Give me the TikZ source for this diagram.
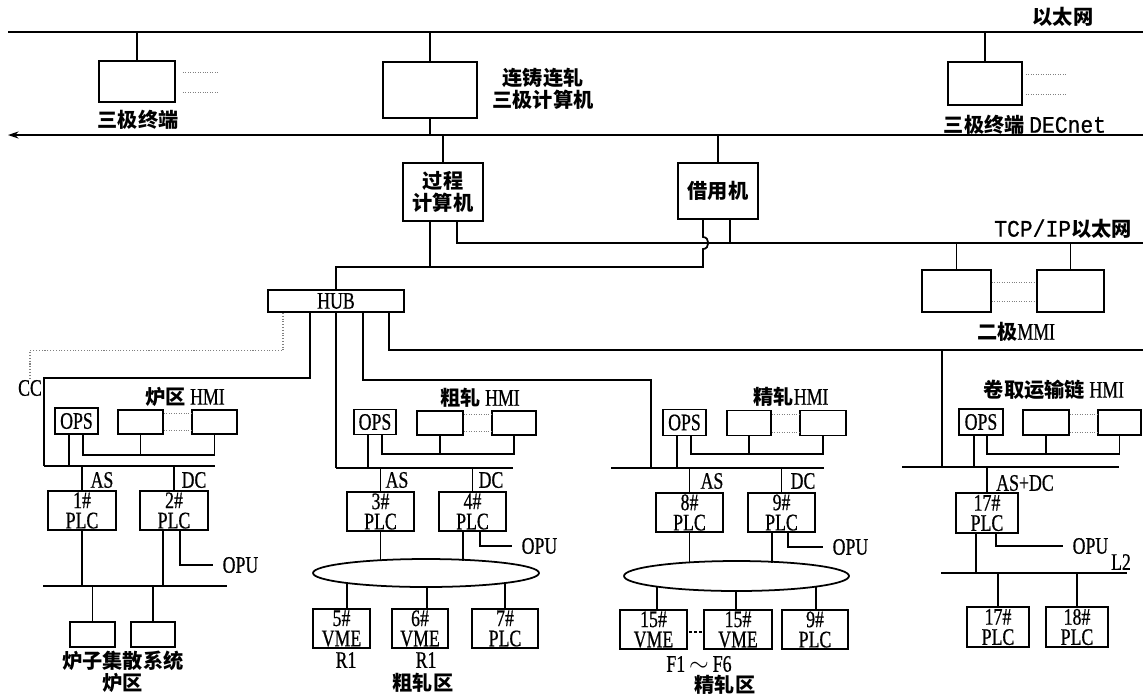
\documentclass[tikz,border=0pt]{standalone}
\usepackage{fontspec}
\setmainfont{Liberation Serif}[FakeStretch=0.75,FakeBold=0.6]
\newfontfamily\cjk{Noto Sans CJK SC}
\newfontfamily\netfont{Liberation Mono}[FakeStretch=0.9,FakeBold=0.6]
\newcommand\cnfont{\cjk\bfseries\fontsize{11.5}{12.5}\selectfont}
\newcommand\boxfont{\fontsize{13.5}{11.5}\selectfont}
\usetikzlibrary{positioning,calc,arrows.meta,shapes.geometric}

\begin{document}
\begin{tikzpicture}[x=0.02cm,y=-0.02cm,line width=1pt,
    box/.style={draw,inner sep=0pt,align=center,font=\boxfont},
    sz/.style 2 args={minimum width=#1*0.02cm,minimum height=#2*0.02cm},
    lbl/.style={inner sep=0pt,align=center,font=\boxfont},
    cn/.style={inner sep=0pt,align=center,font=\cnfont},
    opu/.style={inner sep=0pt,inner xsep=5pt,anchor=west,font=\boxfont},
    dotline/.style={densely dotted,line width=0.4pt,gray},
    ring/.style={draw,ellipse,inner sep=0pt}]
\useasboundingbox (0,0) rectangle (1143,698);

% level 3
\coordinate (ethL) at (8,32);
\coordinate (ethR) at (1143,32);
\coordinate (decL) at (8,135);
\coordinate (decR) at (1143,135);
\node[cn] (ethT) at (1063,17) {以太网};
\node[box,sz={76}{41}] (termL) at (137,81.5) {};
\node[box,sz={94}{56}] (cc3) at (430,90) {};
\node[box,sz={74}{43}] (termR) at (985,83.5) {};
\node[cn] (termLT) at (138,120) {三极终端};
\node[cn] (cc3T) at (543,89) {连铸连轧\\三极计算机};
\node[lbl] (termRT) at (1025,125) {{\cnfont 三极终端} \netfont DECnet};

\draw (ethL) -- (ethR);
\draw[-{Stealth[length=6pt,width=4pt]}] (decR) -- (decL);
\draw (termL.north) -- (termL.north |- ethL);
\draw (cc3.north) -- (cc3.north |- ethL);
\draw (cc3.south) -- (cc3.south |- decL);
\draw (termR.north) -- (termR.north |- ethL);
\draw[dotline] ($(termL.east)+(7,-9.5)$) -- ($(termL.east)+(42,-9.5)$);
\draw[dotline] ($(termL.east)+(7,10.5)$) -- ($(termL.east)+(42,10.5)$);
\draw[dotline] ($(termR.east)+(3,-9.5)$) -- ($(termR.east)+(43,-9.5)$);
\draw[dotline] ($(termR.east)+(3,10.5)$) -- ($(termR.east)+(43,10.5)$);

% level 2
\coordinate (tcpR) at (1143,243);
\coordinate (lanR) at (1143,350);
\coordinate (hopT) at (703,237);
\coordinate (hopB) at (703,249);
\node[box,sz={80}{58},font=\cnfont] (proc) at (443,192) {过程\\计算机};
\node[box,sz={80}{56},font=\cnfont] (spare) at (718,191) {借用机};
\node[box,sz={136}{22}] (hub) at (336,301) {HUB};
\node[lbl] (tcpT) at (1063,229) {{\netfont TCP/IP}{\cnfont 以太网}};
\node[box,sz={69}{42}] (mmiA) at (956.5,291) {};
\node[box,sz={67}{42}] (mmiB) at (1070.5,291) {};
\node[lbl] (mmiT) at (1016,332) {{\cnfont 二极}MMI};

\draw (proc.north) -- (proc.north |- decL);
\draw (spare.north) -- (spare.north |- decL);
\draw ($(proc.south)+(14,0)$) |- (tcpR);
\draw ($(spare.south)+(12,0)$) -- ++(0,24);
\draw ($(proc.south)+(-13,0)$) -- ++(0,46);
\draw ($(spare.south)+(-15,0)$) -- (hopT) .. controls (710,237) and (710,249) .. (hopB) -- ++(0,18) -| (hub.north);
\draw (mmiA.north) -- (mmiA.north |- tcpR);
\draw (mmiB.north) -- (mmiB.north |- tcpR);
\draw[dotline] ($(mmiA.east)+(0,-9)$) -- ($(mmiB.west)+(0,-9)$);
\draw[dotline] ($(mmiA.east)+(0,10)$) -- ($(mmiB.west)+(0,10)$);

% furnace area
\coordinate (busF1) at (44,466);
\coordinate (busF2) at (215,466);
\coordinate (busFa) at (43,586);
\coordinate (busFb) at (227,586);
\node[lbl] (cc) at (30,388) {CC};
\node[box,sz={43}{26}] (opsF) at (76.5,421) {OPS};
\node[box,sz={45}{24}] (hmiF1) at (140.5,422) {};
\node[box,sz={45}{24}] (hmiF2) at (214.5,422) {};
\node[lbl] (hmiFT) at (185,397) {{\cnfont 炉区} HMI};
\node[box,sz={68}{39}] (plc1) at (82,510.5) {1\#\\PLC};
\node[box,sz={68}{39}] (plc2) at (174,510.5) {2\#\\PLC};
\node[lbl] (asF) at (102,480) {AS};
\node[lbl] (dcF) at (194,480) {DC};
\node[opu] (opuF) at (213,565) {OPU};
\node[box,sz={45}{25}] (dcsA) at (92.5,634.5) {};
\node[box,sz={44}{25}] (dcsB) at (153,634.5) {};
\node[cn] (dcsT) at (123,672) {炉子集散系统\\炉区};

\draw[dotline,line width=0.6pt] ($(hub.south)+(-53,0)$) -- ++(0,38) -| (cc.north);
\draw ($(hub.south)+(-26,0)$) -- ++(0,65) -| (busF1);
\draw (busF1) -- (busF2);
\draw[dotline] ($(hmiF1.east)+(0,-9)$) -- ($(hmiF2.west)+(0,-9)$);
\draw[dotline] ($(hmiF1.east)+(0,8)$) -- ($(hmiF2.west)+(0,8)$);
\draw ($(opsF.south)+(-7.5,0)$) -- ++(0,32);
\draw ($(opsF.south)+(6.5,0)$) -- ++(0,20) -| (hmiF2.south);
\draw (hmiF1.south) -- ++(0,20);
\draw (plc1.north) -- (plc1.north |- busF1);
\draw (plc2.north) -- (plc2.north |- busF1);
\draw (busFa) -- (busFb);
\draw (plc1.south) -- (plc1.south |- busFa);
\draw ($(plc2.south)+(-11,0)$) -- ++(0,56);
\draw ($(plc2.south)+(6,0)$) |- (opuF.west);
\draw (dcsA.north) -- (dcsA.north |- busFa);
\draw (dcsB.north) -- (dcsB.north |- busFa);

% roughing area
\coordinate (busR1) at (336,468);
\coordinate (busR2) at (513,468);
\node[box,sz={42}{25}] (opsR) at (375,422) {OPS};
\node[box,sz={46}{24}] (hmiR1) at (440,423) {};
\node[box,sz={44}{24}] (hmiR2) at (514,423) {};
\node[lbl] (hmiRT) at (480,398) {{\cnfont 粗轧} HMI};
\node[box,sz={67}{39}] (plc3) at (380.5,511.5) {3\#\\PLC};
\node[box,sz={67}{39}] (plc4) at (472.5,511.5) {4\#\\PLC};
\node[lbl] (asR) at (397,480) {AS};
\node[lbl] (dcR) at (491,480) {DC};
\node[opu] (opuR) at (512,546) {OPU};
\node[ring,minimum width=226*0.02cm,minimum height=28*0.02cm] (ringR) at (426,573) {};
\node[box,sz={57}{39}] (vme5) at (341.5,628.5) {5\#\\VME};
\node[box,sz={56}{39}] (vme6) at (420,628.5) {6\#\\VME};
\node[box,sz={66}{39}] (plc7) at (505,628.5) {7\#\\PLC};
\node[lbl] (r1a) at (346,660) {R1};
\node[lbl] (r1b) at (426,660) {R1};
\node[cn] (roughT) at (423,683) {粗轧区};

\draw (hub.south) -- (hub.south |- busR1);
\draw (busR1) -- (busR2);
\draw[dotline] ($(hmiR1.east)+(0,-9)$) -- ($(hmiR2.west)+(0,-9)$);
\draw[dotline] ($(hmiR1.east)+(0,8)$) -- ($(hmiR2.west)+(0,8)$);
\draw ($(opsR.south)+(-7,0)$) -- ++(0,33.5);
\draw ($(opsR.south)+(7,0)$) -- ++(0,18.5) -| (hmiR2.south);
\draw (hmiR1.south) -- ++(0,18);
\draw (plc3.north) -- (plc3.north |- busR1);
\draw (plc4.north) -- (plc4.north |- busR1);
\draw (plc3.south) -- ++(0,29.2);
\draw ($(plc4.south)+(-9.5,0)$) -- ++(0,28.8);
\draw ($(plc4.south)+(7.5,0)$) |- (opuR.west);
\draw ($(vme5.north)+(5.5,0)$) -- ++(0,-26);
\draw ($(vme6.north)+(7,0)$) -- ++(0,-22);
\draw (plc7.north) -- ++(0,-26);

% finishing area
\coordinate (busS1) at (611,468);
\coordinate (busS2) at (824,468);
\coordinate (sJoin) at (651,468);
\node[box,sz={43}{26}] (opsS) at (684.5,422.5) {OPS};
\node[box,sz={44}{25}] (hmiS1) at (749,423) {};
\node[box,sz={46}{25}] (hmiS2) at (823,423) {};
\node[lbl] (hmiST) at (791,397) {{\cnfont 精轧}HMI};
\node[box,sz={67}{39}] (plc8) at (689.5,512.5) {8\#\\PLC};
\node[box,sz={67}{39}] (plc9) at (781.5,512.5) {9\#\\PLC};
\node[lbl] (asS) at (712,481) {AS};
\node[lbl] (dcS) at (803,481) {DC};
\node[opu] (opuS) at (823,547) {OPU};
\node[ring,minimum width=225*0.02cm,minimum height=30*0.02cm] (ringS) at (736.5,576) {};
\node[box,sz={67}{39}] (vmeA) at (653.5,629.5) {15\#\\VME};
\node[box,sz={68}{39}] (vmeB) at (738,629.5) {15\#\\VME};
\node[box,sz={66}{39}] (plc9b) at (815,629.5) {9\#\\PLC};
\node[lbl] (fstand) at (699,664) {F1\,$\sim$\,F6};
\node[cn] (finT) at (725,685) {精轧区};

\draw ($(hub.south)+(27,0)$) -- ++(0,67) -| (sJoin);
\draw (busS1) -- (busS2);
\draw[dotline] ($(hmiS1.east)+(0,-9)$) -- ($(hmiS2.west)+(0,-9)$);
\draw[dotline] ($(hmiS1.east)+(0,9)$) -- ($(hmiS2.west)+(0,9)$);
\draw ($(opsS.south)+(-7.5,0)$) -- ++(0,32.5);
\draw ($(opsS.south)+(6.5,0)$) -- ++(0,17.5) -| (hmiS2.south);
\draw (hmiS1.south) -- ++(0,17.5);
\draw (plc8.north) -- (plc8.north |- busS1);
\draw (plc9.north) -- (plc9.north |- busS1);
\draw (plc8.south) -- ++(0,30.3);
\draw ($(plc9.south)+(-9.5,0)$) -- ++(0,29.8);
\draw ($(plc9.south)+(6.5,0)$) |- (opuS.west);
\draw ($(vmeA.north)+(3.5,0)$) -- ++(0,-23.4);
\draw ($(vmeB.north)+(-2,0)$) -- ++(0,-19);
\draw ($(plc9b.north)+(1,0)$) -- ++(0,-23.4);
\draw[line width=1.5pt,dash pattern=on 1.5pt off 1.2pt] ($(vmeA.east)+(1.5,2.5)$) -- ($(vmeB.west)+(-1.5,2.5)$);

% coiler area
\coordinate (cJoin) at (942,350);
\coordinate (busC1) at (902,467);
\coordinate (busC2) at (1119,467);
\coordinate (busL1) at (941,573);
\coordinate (busL2) at (1127,573);
\node[lbl] (hmiCT) at (1054,390) {{\cnfont 卷取运输链} HMI};
\node[box,sz={44}{26}] (opsC) at (981,422) {OPS};
\node[box,sz={46}{25}] (hmiC1) at (1046,422.5) {};
\node[box,sz={43}{25}] (hmiC2) at (1119.5,422.5) {};
\node[box,sz={62}{40}] (plc17) at (987,513) {17\#\\PLC};
\node[lbl] (asdc) at (1025,483) {AS+DC};
\node[opu] (opuC) at (1063,546) {OPU};
\node[lbl] (l2) at (1121,562) {L2};
\node[box,sz={62}{40}] (plc17b) at (998,627) {17\#\\PLC};
\node[box,sz={62}{40}] (plc18) at (1077,627) {18\#\\PLC};

\draw ($(hub.south)+(53,0)$) |- (lanR);
\draw (cJoin) -- (cJoin |- busC1);
\draw (busC1) -- (busC2);
\draw[dotline] ($(hmiC1.east)+(0,-8.5)$) -- ($(hmiC2.west)+(0,-8.5)$);
\draw[dotline] ($(hmiC1.east)+(0,9.5)$) -- ($(hmiC2.west)+(0,9.5)$);
\draw ($(opsC.south)+(-7,0)$) -- ++(0,32);
\draw ($(opsC.south)+(6,0)$) -- ++(0,18) -| (hmiC2.south);
\draw (hmiC1.south) -- ++(0,18);
\draw (plc17.north) -- (plc17.north |- busC1);
\draw ($(plc17.south)+(-11,0)$) -- ++(0,40);
\draw ($(plc17.south)+(9,0)$) |- (opuC.west);
\draw (busL1) -- (busL2);
\draw (plc17b.north) -- (plc17b.north |- busL1);
\draw (plc18.north) -- (plc18.north |- busL1);
\end{tikzpicture}
\end{document}
